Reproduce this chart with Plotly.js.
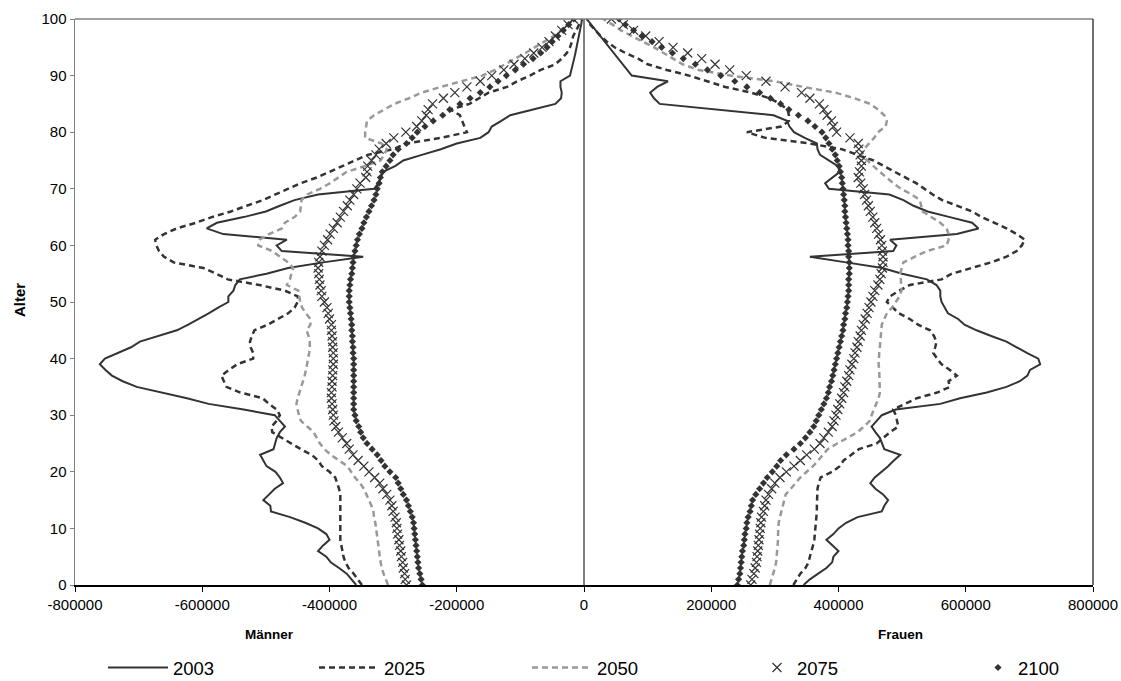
<!DOCTYPE html>
<html>
<head>
<meta charset="utf-8">
<script src="https://cdn.plot.ly/plotly-3.0.1.min.js"></script>
<style>html,body{margin:0;padding:0;background:#fff;}#chart{width:1121px;height:681px;}</style>
</head>
<body>
<div id="chart"></div>
<script>
const ages = [0,1,2,3,4,5,6,7,8,9,10,11,12,13,14,15,16,17,18,19,20,21,22,23,24,25,26,27,28,29,30,31,32,33,34,35,36,37,38,39,40,41,42,43,44,45,46,47,48,49,50,51,52,53,54,55,56,57,58,59,60,61,62,63,64,65,66,67,68,69,70,71,72,73,74,75,76,77,78,79,80,81,82,83,84,85,86,87,88,89,90,91,92,93,94,95,96,97,98,99,100];

const years = ['2003','2025','2050','2075','2100'];

// Männer (negative values, as plotted)
const m2003 = [-358000,-365000,-373000,-385000,-398000,-405000,-418000,-410000,-400000,-405000,
-418000,-438000,-462000,-492000,-493000,-504000,-495000,-486000,-473000,-478000,
-485000,-499000,-504000,-509000,-488000,-485000,-483000,-478000,-470000,-478000,
-486000,-535000,-590000,-624000,-666000,-703000,-725000,-742000,-752000,-761000,
-753000,-732000,-712000,-698000,-670000,-640000,-622000,-605000,-590000,-575000,
-559000,-559000,-551000,-548000,-541000,-499000,-465000,-410000,-347000,-475000,
-483000,-467000,-567000,-593000,-577000,-535000,-500000,-478000,-455000,-418000,
-330000,-323000,-319000,-316000,-297000,-284000,-255000,-225000,-200000,-163000,
-150000,-145000,-130000,-116000,-80000,-45000,-36000,-35000,-37000,-37000,
-22000,-19500,-17500,-15500,-13500,-11500,-9500,-7500,-6000,-4500,
-3000];

const m2025 = [-349000,-355000,-362000,-370000,-375000,-378000,-380000,-382000,-383000,-383000,
-383000,-383000,-383000,-383000,-383000,-383000,-383000,-385000,-388000,-391000,
-400000,-412000,-418000,-428000,-445000,-460000,-475000,-490000,-491000,-483000,
-478000,-483000,-495000,-505000,-540000,-562000,-566000,-570000,-558000,-545000,
-520000,-520000,-524000,-525000,-522000,-518000,-497000,-480000,-465000,-455000,
-450000,-450000,-470000,-510000,-560000,-578000,-598000,-645000,-660000,-668000,
-672000,-674000,-660000,-640000,-610000,-585000,-555000,-530000,-505000,-485000,
-465000,-445000,-420000,-400000,-380000,-360000,-340000,-300000,-279000,-225000,
-184000,-188000,-192000,-195000,-210000,-180000,-165000,-150000,-121000,-105000,
-85000,-68000,-45000,-35000,-27000,-22000,-19000,-17000,-12000,-8000,
-4000];

const m2050 = [-308000,-312000,-315000,-318000,-320000,-321000,-322000,-323000,-325000,-326000,
-327000,-328000,-330000,-331000,-334000,-338000,-342000,-346000,-352000,-360000,
-366000,-372000,-385000,-398000,-408000,-415000,-420000,-425000,-435000,-445000,
-448000,-450000,-452000,-450000,-447000,-444000,-441000,-439000,-437000,-435000,
-433000,-432000,-431000,-431000,-433000,-436000,-430000,-430000,-437000,-443000,
-446000,-448000,-449000,-467000,-462000,-460000,-457000,-465000,-478000,-490000,
-512000,-510000,-495000,-475000,-470000,-455000,-446000,-445000,-444000,-435000,
-415000,-399000,-385000,-373000,-345000,-320000,-314000,-310000,-318000,-344000,
-344000,-343000,-341000,-330000,-315000,-298000,-275000,-255000,-225000,-193000,
-160000,-140000,-125000,-108000,-92000,-77000,-62000,-48000,-36000,-26000,
-15000];

const m2075 = [-279000,-281000,-282000,-284000,-285000,-287000,-288000,-290000,-291000,-293000,
-294000,-295000,-297000,-300000,-302000,-305000,-310000,-316000,-321000,-329000,
-338000,-346000,-355000,-363000,-369000,-373000,-380000,-386000,-390000,-393000,
-394000,-395000,-396000,-397000,-397000,-396000,-396000,-395000,-395000,-394000,
-394000,-394000,-395000,-395000,-396000,-397000,-397000,-400000,-402000,-404000,
-408000,-412000,-413000,-415000,-416000,-417000,-418000,-417000,-415000,-412000,
-408000,-403000,-399000,-394000,-388000,-383000,-378000,-372000,-368000,-362000,
-357000,-352000,-343000,-341000,-340000,-334000,-327000,-322000,-311000,-299000,
-280000,-263000,-255000,-248000,-245000,-238000,-221000,-203000,-184000,-163000,
-145000,-126000,-110000,-93000,-79000,-66000,-55000,-45000,-35000,-25000,
-16800];

const m2100 = [-254000,-256000,-258000,-260000,-261000,-262000,-263000,-264000,-265000,-266000,
-267000,-268000,-270000,-273000,-276000,-279000,-284000,-288000,-292000,-296000,
-305000,-313000,-319000,-325000,-333000,-341000,-347000,-351000,-354000,-358000,
-360000,-362000,-362000,-362000,-362000,-362000,-362000,-362000,-362000,-362000,
-362000,-363000,-363000,-364000,-364000,-365000,-365000,-366000,-367000,-368000,
-369000,-369000,-369000,-368000,-367000,-365000,-364000,-363000,-362000,-360000,
-358000,-356000,-353000,-349000,-346000,-342000,-338000,-334000,-330000,-327000,
-325000,-322000,-320000,-317000,-311000,-305000,-300000,-292000,-279000,-270000,
-262000,-250000,-237000,-222000,-211000,-195000,-179000,-163000,-148000,-135000,
-122000,-108000,-95000,-80000,-68000,-58000,-50000,-41000,-32500,-24000,
-16000];

// Frauen
const f2003 = [345000,355000,368000,381000,390000,392000,400000,390000,381000,392000,
400000,412000,430000,468000,472000,478000,470000,458000,450000,457000,
468000,478000,487000,497000,472000,469000,465000,458000,452000,460000,
468000,490000,560000,591000,633000,664000,685000,697000,701000,717000,
714000,696000,680000,664000,640000,617000,598000,588000,572000,567000,
562000,560000,560000,554000,539000,500000,469000,412000,355000,486000,
491000,481000,586000,620000,610000,575000,540000,518000,502000,480000,
385000,379000,390000,402000,399000,384000,371000,367000,366000,347000,
330000,323000,319000,298000,208000,119000,110000,104000,115000,132000,
75000,68000,61000,54000,47000,40000,33000,26000,19000,12000,
4200];

const f2025 = [329000,335000,340000,348000,353000,355000,358000,360000,362000,363000,
364000,365000,365000,366000,366000,366000,366000,367000,369000,372000,
390000,402000,408000,420000,432000,460000,470000,481000,494000,492000,
490000,486000,505000,523000,555000,575000,573000,586000,575000,562000,
555000,549000,552000,554000,550000,544000,525000,512000,495000,486000,
476000,481000,495000,512000,562000,578000,610000,640000,664000,680000,
688000,693000,680000,664000,645000,625000,610000,585000,563000,548000,
535000,522000,505000,488000,472000,455000,430000,405000,355000,285000,
256000,310000,322000,322000,320000,308000,292000,262000,222000,195000,
165000,130000,100000,85000,65000,48000,36000,26000,18000,10000,
5000];

const f2050 = [292000,295000,298000,300000,302000,303000,304000,304000,305000,305000,
305000,306000,308000,310000,312000,314000,317000,325000,332000,340000,
350000,360000,368000,375000,383000,398000,415000,430000,440000,449000,
452000,456000,460000,463000,465000,465000,465000,465000,464000,463000,
463000,464000,465000,466000,467000,467000,468000,472000,476000,484000,
490000,496000,499000,499000,498000,497000,499000,502000,520000,539000,
570000,573000,573000,570000,560000,545000,532000,530000,528000,515000,
498000,486000,475000,465000,455000,445000,436000,440000,448000,456000,
462000,474000,476000,472000,462000,450000,425000,395000,345000,300000,
230000,180000,155000,140000,125000,110000,92000,75000,58000,45000,
30000];

const f2075 = [262000,264000,267000,269000,271000,272000,273000,274000,275000,276000,
277000,278000,279000,282000,284000,286000,290000,295000,300000,308000,
318000,330000,340000,350000,362000,371000,377000,384000,390000,393000,
396000,399000,402000,405000,408000,410000,413000,416000,418000,421000,
424000,426000,429000,431000,434000,436000,439000,442000,445000,448000,
451000,454000,457000,462000,465000,467000,469000,470000,470000,469000,
468000,466000,463000,460000,457000,454000,450000,447000,444000,441000,
439000,435000,431000,433000,436000,436000,434000,432000,431000,418000,
397000,392000,389000,382000,377000,370000,355000,342000,316000,286000,
255000,229000,206000,185000,163000,140000,118000,97000,78000,62000,
43000];

const f2100 = [241000,243000,245000,246000,247000,248000,249000,251000,252000,253000,
255000,256000,258000,261000,263000,265000,270000,276000,282000,288000,
296000,303000,309000,318000,330000,340000,348000,355000,361000,365000,
369000,373000,377000,381000,384000,386000,389000,391000,393000,395000,
397000,399000,401000,403000,405000,407000,408000,410000,411000,413000,
414000,415000,416000,416000,416000,417000,417000,417000,416000,416000,
415000,415000,414000,413000,412000,411000,410000,410000,409000,408000,
407000,406000,405000,403000,401000,398000,395000,390000,385000,380000,
374000,363000,352000,337000,322000,309000,293000,276000,256000,237000,
215000,194000,175000,156000,139000,122000,107000,91000,78000,65000,
55000];

const xTickVals = [-800000,-600000,-400000,-200000,0,200000,400000,600000,800000];
const xTickText = ['-800000','-600000','-400000','-200000','0','200000','400000','600000','800000'];
const yTickVals = [0,10,20,30,40,50,60,70,80,90,100];

const dark = '#333333';
const gray = '#999999';

const styles = {
  '2003': {mode:'lines', line:{color:dark, width:2}},
  '2025': {mode:'lines', line:{color:dark, width:2.5, dash:'6px,4px'}},
  '2050': {mode:'lines', line:{color:gray, width:2.5, dash:'6px,4px'}},
  '2075': {mode:'markers', marker:{symbol:'x-thin-open', size:9, color:dark, line:{color:dark, width:1.2}}},
  '2100': {mode:'markers', marker:{symbol:'diamond', size:5.5, color:dark, line:{width:0}}}
};

const male = {'2003':m2003,'2025':m2025,'2050':m2050,'2075':m2075,'2100':m2100};
const female = {'2003':f2003,'2025':f2025,'2050':f2050,'2075':f2075,'2100':f2100};
const legendIds = {'2003':'legend','2025':'legend2','2050':'legend3','2075':'legend4','2100':'legend5'};

const traces = [];
years.forEach(function(yr){
  traces.push(Object.assign({type:'scatter', x:male[yr], y:ages, name:yr, legendgroup:yr, legend:legendIds[yr], showlegend:true, hoverinfo:'skip'}, JSON.parse(JSON.stringify(styles[yr]))));
  traces.push(Object.assign({type:'scatter', x:female[yr], y:ages, name:yr, legendgroup:yr, legend:legendIds[yr], showlegend:false, hoverinfo:'skip'}, JSON.parse(JSON.stringify(styles[yr]))));
});

function legendBox(xpx, iw) {
  return {orientation:'h', xref:'container', yref:'container', x:xpx/1121, y:1-668/681,
          xanchor:'left', yanchor:'middle', font:{size:18.5}, itemwidth:iw,
          bgcolor:'rgba(0,0,0,0)', borderwidth:0};
}

const layout = {
  width:1121, height:681,
  margin:{l:75, r:28, t:19, b:96, autoexpand:false},
  paper_bgcolor:'#ffffff', plot_bgcolor:'#ffffff',
  font:{family:'"Liberation Sans", Arial, sans-serif', color:'#000000', size:15},
  showlegend:true,
  legend:legendBox(103, 60),
  legend2:legendBox(314, 60),
  legend3:legendBox(527, 60),
  legend4:legendBox(757, 30),
  legend5:legendBox(978, 30),
  xaxis:{range:[-800000,800000], tickvals:xTickVals, ticktext:xTickText, ticks:'outside', ticklen:5,
         tickcolor:'#000000', showline:true, linecolor:'#000000', linewidth:2, showgrid:false,
         zeroline:true, zerolinecolor:'#808080', zerolinewidth:1.5, tickfont:{size:15}, fixedrange:true},
  yaxis:{range:[0,100], tickvals:yTickVals, ticks:'outside', ticklen:4, tickcolor:'#808080',
         showline:true, linecolor:'#808080', linewidth:1.5, showgrid:false, zeroline:false,
         tickfont:{size:15}, fixedrange:true},
  shapes:[
    {type:'line', xref:'paper', yref:'paper', x0:0, x1:1, y0:1, y1:1, line:{color:'#808080', width:1.5}},
    {type:'line', xref:'paper', yref:'paper', x0:1, x1:1, y0:0, y1:1, line:{color:'#404040', width:1.5}}
  ],
  annotations:[
    {text:'<b>Männer</b>', xref:'x', yref:'paper', x:-495000, y:-0.088, showarrow:false, font:{size:13.5}, xanchor:'center', yanchor:'middle'},
    {text:'<b>Frauen</b>', xref:'x', yref:'paper', x:497000, y:-0.088, showarrow:false, font:{size:13.5}, xanchor:'center', yanchor:'middle'},
    {text:'<b>Alter</b>', xref:'paper', yref:'paper', x:-0.055, y:0.5035, showarrow:false, textangle:-90, font:{size:15}, xanchor:'center', yanchor:'middle'}
  ]
};

Plotly.newPlot('chart', traces, layout, {displayModeBar:false, staticPlot:true});
</script>
</body>
</html>
